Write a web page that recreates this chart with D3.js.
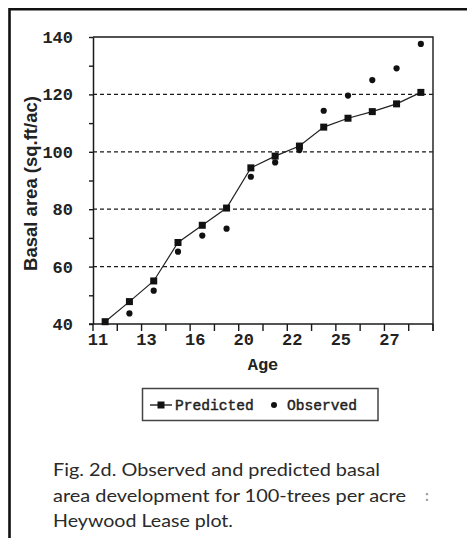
<!DOCTYPE html>
<html>
<head>
<meta charset="utf-8">
<script src="https://cdn.jsdelivr.net/npm/d3@7/dist/d3.min.js"></script>
<style>
  html, body { margin: 0; padding: 0; background: #fff; }
  svg { display: block; }
</style>
</head>
<body>
<script>
// Stand age categories (one band per measurement)
const ages = [11, 12, 13, 14, 16, 18, 20, 21, 22, 24, 25, 26, 27, 28];
// Ages that carry a label on the x axis
const xTickLabels = [11, 13, 16, 20, 22, 25, 27];
// Predicted basal area (sq.ft/ac)
const predicted = [40.8, 47.8, 55.0, 68.4, 74.4, 80.4, 94.4, 98.5, 102.0, 108.6, 111.7, 114.0, 116.7, 120.7];
// Observed basal area (sq.ft/ac); first measurement coincides with the prediction
const observed = [null, 43.7, 51.6, 65.2, 70.8, 73.2, 91.3, 96.3, 100.6, 114.3, 119.6, 125.0, 129.1, 137.6];
// Y axis: minor ticks every 10, labels and grid every 20
const yTicks = [40, 50, 60, 70, 80, 90, 100, 110, 120, 130, 140];
const yTickLabels = [40, 60, 80, 100, 120, 140];
const gridValues = [60, 80, 100, 120];
const captionLines = [
  "Fig. 2d. Observed and predicted basal",
  "area development for 100-trees per acre",
  "Heywood Lease plot."
];

const W = 467, H = 538;
const svg = d3.select("body").append("svg").attr("width", W).attr("height", H);
svg.append("rect").attr("width", W).attr("height", H).attr("fill", "#fff");

// Outer frame (left and top edges)
svg.append("path")
  .attr("d", "M9.5,538 L9.5,9.2 L467,9.2")
  .attr("fill", "none").attr("stroke", "#111").attr("stroke-width", 2.6);

const plot = { left: 93, right: 433, top: 37, bottom: 324 };
const x = d3.scaleBand().domain(ages).range([plot.left, plot.right]).paddingInner(0).paddingOuter(0);
const y = d3.scaleLinear().domain([40, 140]).range([plot.bottom, plot.top]);
const cx = a => x(a) + x.bandwidth() / 2;

const monoFont = "'Liberation Mono', 'Courier New', monospace";
const ink = "#1a1a1a";

// Dashed reference lines
svg.append("g").selectAll("line").data(gridValues).join("line")
  .attr("x1", plot.left).attr("x2", plot.right)
  .attr("y1", d => y(d)).attr("y2", d => y(d))
  .attr("stroke", ink).attr("stroke-width", 1.3).attr("stroke-dasharray", "4,3");

// Top and right edges of the plot box
svg.append("path")
  .attr("d", `M${plot.left},${plot.top} L${plot.right},${plot.top} L${plot.right},${plot.bottom + 7}`)
  .attr("fill", "none").attr("stroke", ink).attr("stroke-width", 1.4);

// Y axis
const yAxis = d3.axisLeft(y).tickValues(yTicks).tickSize(4).tickSizeOuter(0).tickPadding(16)
  .tickFormat(d => yTickLabels.includes(d) ? d : "");
const gy = svg.append("g").attr("transform", `translate(${plot.left},0)`).call(yAxis);
gy.select(".domain").attr("stroke", ink).attr("stroke-width", 1.5);
gy.selectAll(".tick line").attr("stroke", ink).attr("stroke-width", 1.4);
gy.selectAll(".tick text")
  .attr("font-family", monoFont).attr("font-weight", "bold").attr("font-size", 17)
  .attr("fill", "#222");

// X axis: ticks on category boundaries, labels on every other category
const boundaries = ages.map(a => x(a)).concat([x.range()[1]]);
const gx = svg.append("g");
gx.append("line")
  .attr("x1", plot.left - 4).attr("x2", plot.right)
  .attr("y1", plot.bottom).attr("y2", plot.bottom)
  .attr("stroke", ink).attr("stroke-width", 1.5);
gx.selectAll("line.tk").data(boundaries).join("line").attr("class", "tk")
  .attr("x1", d => d).attr("x2", d => d)
  .attr("y1", plot.bottom).attr("y2", plot.bottom + 7)
  .attr("stroke", ink).attr("stroke-width", 1.4);
gx.selectAll("text").data(xTickLabels).join("text")
  .attr("x", d => x(d) + 5).attr("y", plot.bottom + 21)
  .attr("text-anchor", "middle")
  .attr("font-family", monoFont).attr("font-weight", "bold").attr("font-size", 17)
  .attr("fill", "#222").text(d => d);

// Axis titles
svg.append("text")
  .attr("x", (plot.left + plot.right) / 2).attr("y", 370)
  .attr("text-anchor", "middle")
  .attr("font-family", monoFont).attr("font-weight", "bold").attr("font-size", 17)
  .attr("fill", "#222").text("Age");
svg.append("text")
  .attr("transform", "translate(37,183.5) rotate(-90)")
  .attr("text-anchor", "middle")
  .attr("font-family", "'Liberation Sans', Arial, sans-serif").attr("font-weight", "bold").attr("font-size", 18.5)
  .attr("fill", "#222").text("Basal area (sq.ft/ac)");

// Predicted line with square markers
const line = d3.line().x((d, i) => cx(ages[i])).y(d => y(d));
svg.append("path").datum(predicted)
  .attr("d", line).attr("fill", "none").attr("stroke", "#222").attr("stroke-width", 1.2);
const sq = 7;
svg.append("g").selectAll("rect").data(predicted).join("rect")
  .attr("x", (d, i) => cx(ages[i]) - sq / 2).attr("y", d => y(d) - sq / 2)
  .attr("width", sq).attr("height", sq).attr("fill", "#111");

// Observed points
svg.append("g").selectAll("circle")
  .data(observed.map((v, i) => ({ a: ages[i], v })).filter(d => d.v != null))
  .join("circle")
  .attr("cx", d => cx(d.a)).attr("cy", d => y(d.v)).attr("r", 3.1).attr("fill", "#111");

// Legend
const lg = svg.append("g");
lg.append("rect").attr("x", 142.5).attr("y", 388.5).attr("width", 235.5).attr("height", 32)
  .attr("fill", "#fff").attr("stroke", "#444").attr("stroke-width", 1.5);
lg.append("line").attr("x1", 150).attr("x2", 172).attr("y1", 405).attr("y2", 405)
  .attr("stroke", "#222").attr("stroke-width", 1.4);
lg.append("rect").attr("x", 161 - sq / 2).attr("y", 405 - sq / 2).attr("width", sq).attr("height", sq).attr("fill", "#111");
lg.append("text").attr("x", 175).attr("y", 410)
  .attr("font-family", monoFont).attr("font-size", 14.6)
  .attr("fill", "#222").attr("stroke", "#222").attr("stroke-width", 0.45).text("Predicted");
lg.append("circle").attr("cx", 274).attr("cy", 405).attr("r", 3).attr("fill", "#111");
lg.append("text").attr("x", 287).attr("y", 410)
  .attr("font-family", monoFont).attr("font-size", 14.6)
  .attr("fill", "#222").attr("stroke", "#222").attr("stroke-width", 0.45).text("Observed");

// Caption
const capBase = [476, 501.5, 527];
const capWidth = [327, 353, 180];
svg.append("g").selectAll("text").data(captionLines).join("text")
  .attr("x", 53).attr("y", (d, i) => capBase[i])
  .attr("textLength", (d, i) => capWidth[i]).attr("lengthAdjust", "spacingAndGlyphs")
  .attr("font-family", "Lato, 'Open Sans', sans-serif").attr("font-size", 18)
  .attr("fill", "#2a2a2a").text(d => d);
svg.append("text").attr("x", 425).attr("y", 501)
  .attr("font-family", "Lato, sans-serif").attr("font-weight", "bold").attr("font-size", 15).attr("fill", "#999").text(":");
</script>
</body>
</html>
